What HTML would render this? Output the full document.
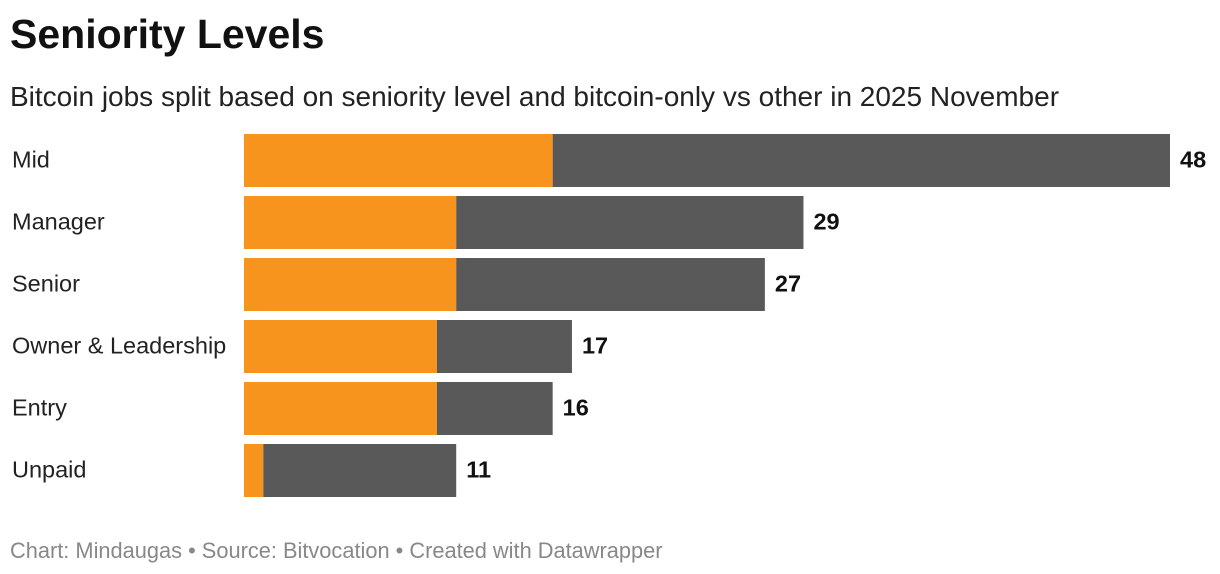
<!DOCTYPE html>
<html><head><meta charset="utf-8">
<style>
body{margin:0;width:1220px;height:574px;background:#fff;font-family:"Liberation Sans",Arial,sans-serif;overflow:hidden;position:relative}
.title{position:absolute;left:10px;top:11px;font-size:41px;font-weight:bold;color:#111}
.sub{position:absolute;left:10px;top:81px;font-size:28px;color:#222;white-space:nowrap}
.foot{position:absolute;left:10px;top:538px;font-size:21.8px;color:#888;white-space:nowrap}
svg{position:absolute;left:0;top:0}
</style></head><body>
<div class="title">Seniority Levels</div>
<div class="sub">Bitcoin jobs split based on seniority level and bitcoin-only vs other in 2025 November</div>
<svg id="chart" width="1220" height="574"></svg>
<div class="foot">Chart: Mindaugas • Source: Bitvocation • Created with Datawrapper</div>
<script>
const categories=["Mid","Manager","Senior","Owner & Leadership","Entry","Unpaid"];
const bitcoinOnly=[16,11,11,10,10,1];
const totals=[48,29,27,17,16,11];
const svg=document.getElementById('chart');
const NS='http://www.w3.org/2000/svg';
const x0=244,x1=1170,maxV=Math.max(...totals);
const xs=v=>x0+(x1-x0)*v/maxV;
const y=i=>134+i*62,bh=53;
categories.forEach((c,i)=>{
  const g=document.createElementNS(NS,'g');
  
  
  const lab=document.createElementNS(NS,'text');
  lab.setAttribute('x',12);lab.setAttribute('y',y(i)+bh/2+7);
  lab.setAttribute('font-size','23.5');lab.setAttribute('fill','#222');
  lab.textContent=c;
  
  
  g.appendChild(lab);
  const o=document.createElementNS(NS,'rect');
  o.setAttribute('x',x0);o.setAttribute('y',y(i));o.setAttribute('width',xs(bitcoinOnly[i])-x0);o.setAttribute('height',bh);o.setAttribute('fill','#f7941d');
  
  
  g.appendChild(o);
  const r=document.createElementNS(NS,'rect');
  r.setAttribute('x',xs(bitcoinOnly[i]));r.setAttribute('y',y(i));r.setAttribute('width',xs(totals[i])-xs(bitcoinOnly[i]));r.setAttribute('height',bh);r.setAttribute('fill','#595959');
  
  
  g.appendChild(r);
  const t=document.createElementNS(NS,'text');
  t.setAttribute('x',xs(totals[i])+10);t.setAttribute('y',y(i)+bh/2+7);
  t.setAttribute('font-size','23.5');t.setAttribute('font-weight','bold');t.setAttribute('fill','#111');
  t.textContent=totals[i];
  
  
  g.appendChild(t);
  svg.appendChild(g);
});
</script>
</body></html>
